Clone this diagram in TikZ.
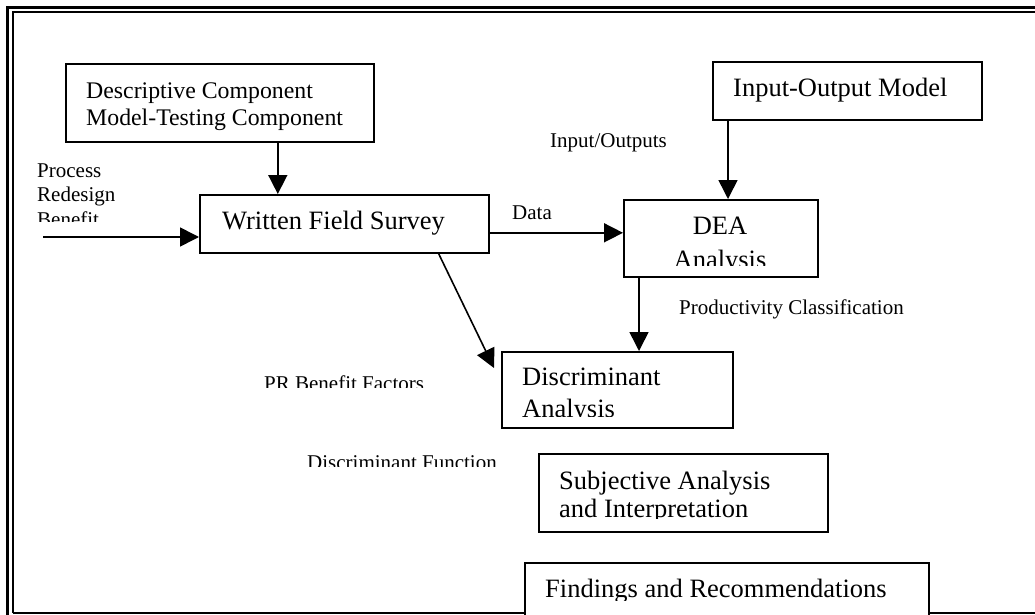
\documentclass[tikz,border=0pt]{standalone}
\usepackage{fontspec}
\setmainfont{Liberation Serif}
\usetikzlibrary{arrows.meta}

\begin{document}
\begin{tikzpicture}
        [x=1pt, y=-1pt,
            box/.style={draw, line width=1.6pt, fill=white, anchor=north west, inner sep=0pt},
            boxtext/.style={anchor=base west, inner sep=0pt, font=\fontsize{26.5}{32}\selectfont},
            smalltext/.style={anchor=base west, inner sep=0pt, font=\fontsize{23.8}{27}\selectfont},
            lbl/.style={anchor=base west, inner sep=0pt, font=\fontsize{21}{25}\selectfont},
            flow/.style={-{Triangle[length=19pt, width=19pt]}, line width=1.6pt}
        ]
        \useasboundingbox (0,0) rectangle (1035,615);
        % page frame, double on top and left
        \draw[line width=2.6pt] (7.5,620) -- (7.5,7.5) -- (1040,7.5);
        \draw[line width=2pt] (12.5,613) -- (12.5,12.5) -- (1040,12.5);
        \draw[line width=2pt] (12.5,613) -- (1040,613);

        \node (desc) [box, minimum width=308pt, minimum height=78pt] at (65,63) {};
        \node (desc line1) [smalltext] at (86,98.5) {Descriptive Component};
        \node (desc line2) [smalltext] at (86,125) {Model-Testing Component};

        \node (wfs) [box, minimum width=289pt, minimum height=58pt] at (199,194) {};
        \node (wfs text) [boxtext] at (222,229) {Written Field Survey};

        \node (io) [box, minimum width=269pt, minimum height=58pt] at (712,61) {};
        \node (io text) [boxtext] at (733,97) {Input-Output Model};

        \node (dea) [box, minimum width=194pt, minimum height=77pt] at (623,199) {};
        \node (dea line1) [boxtext, anchor=base] at (720,234) {DEA};
        \begin{scope}
            \clip (600,240) rectangle (840,265);
            \node (dea line2) [boxtext, anchor=base] at (720,268) {Analysis};
        \end{scope}

        \node (disc) [box, minimum width=231pt, minimum height=76pt] at (501,351) {};
        \node (disc line1) [boxtext] at (522,385) {Discriminant};
        \begin{scope}
            \clip (510,390) rectangle (720,416.7);
            \node (disc line2) [boxtext] at (522,417.5) {Analysis};
        \end{scope}

        \node (subj) [box, minimum width=289pt, minimum height=78pt] at (538,453) {};
        \node (subj line1) [boxtext] at (559,489) {Subjective Analysis};
        \begin{scope}
            \clip (550,493) rectangle (820,518.3);
            \node (subj line2) [boxtext] at (559,517.5) {and Interpretation};
        \end{scope}

        % bottom box runs off the page
        \node (find) [box, minimum width=404pt, minimum height=80pt] at (524,562) {};
        \begin{scope}
            \clip (530,570) rectangle (920,600);
            \node (find text) [boxtext] at (545,597.5) {Findings and Recommendations};
        \end{scope}

        % free labels
        \node (pr1) [lbl] at (37,177.3) {Process};
        \node (pr2) [lbl] at (37,201.7) {Redesign};
        \begin{scope}
            \clip (30,205) rectangle (190,221.3);
            \node (pr3) [lbl] at (37,226.7) {Benefit};
        \end{scope}
        \node (inout) [lbl] at (550,147.3) {Input/Outputs};
        \node (data) [lbl] at (512,219) {Data};
        \node (prodclass) [lbl] at (679,314) {Productivity Classification};
        \begin{scope}
            \clip (255,365) rectangle (440,387.3);
            \node (prfactors) [lbl] at (264,390) {PR Benefit Factors};
        \end{scope}
        \begin{scope}
            \clip (300,445) rectangle (510,466.7);
            \node (discfunc) [lbl] at (307,469) {Discriminant Function};
        \end{scope}

        % connectors
        \coordinate (pr in) at (43,237);
        \draw[flow] (pr in) -- (pr in -| wfs.west);
        \draw[flow] ([xshift=58pt]desc.south) -- ([xshift=58pt]desc.south |- wfs.north);
        \draw[flow] ([yshift=-9pt]wfs.east) -- ([yshift=-9pt]wfs.east -| dea.west);
        \draw[flow] ([xshift=16pt]io.south west) -- ([xshift=16pt]io.south west |- dea.north);
        \draw[flow] ([xshift=16pt]dea.south west) -- ([xshift=16pt]dea.south west |- disc.north);
        \draw[flow] ([xshift=-51pt]wfs.south east) -- ([xshift=-7pt, yshift=-17pt]disc.north west);
    \end{tikzpicture}
\end{document}
